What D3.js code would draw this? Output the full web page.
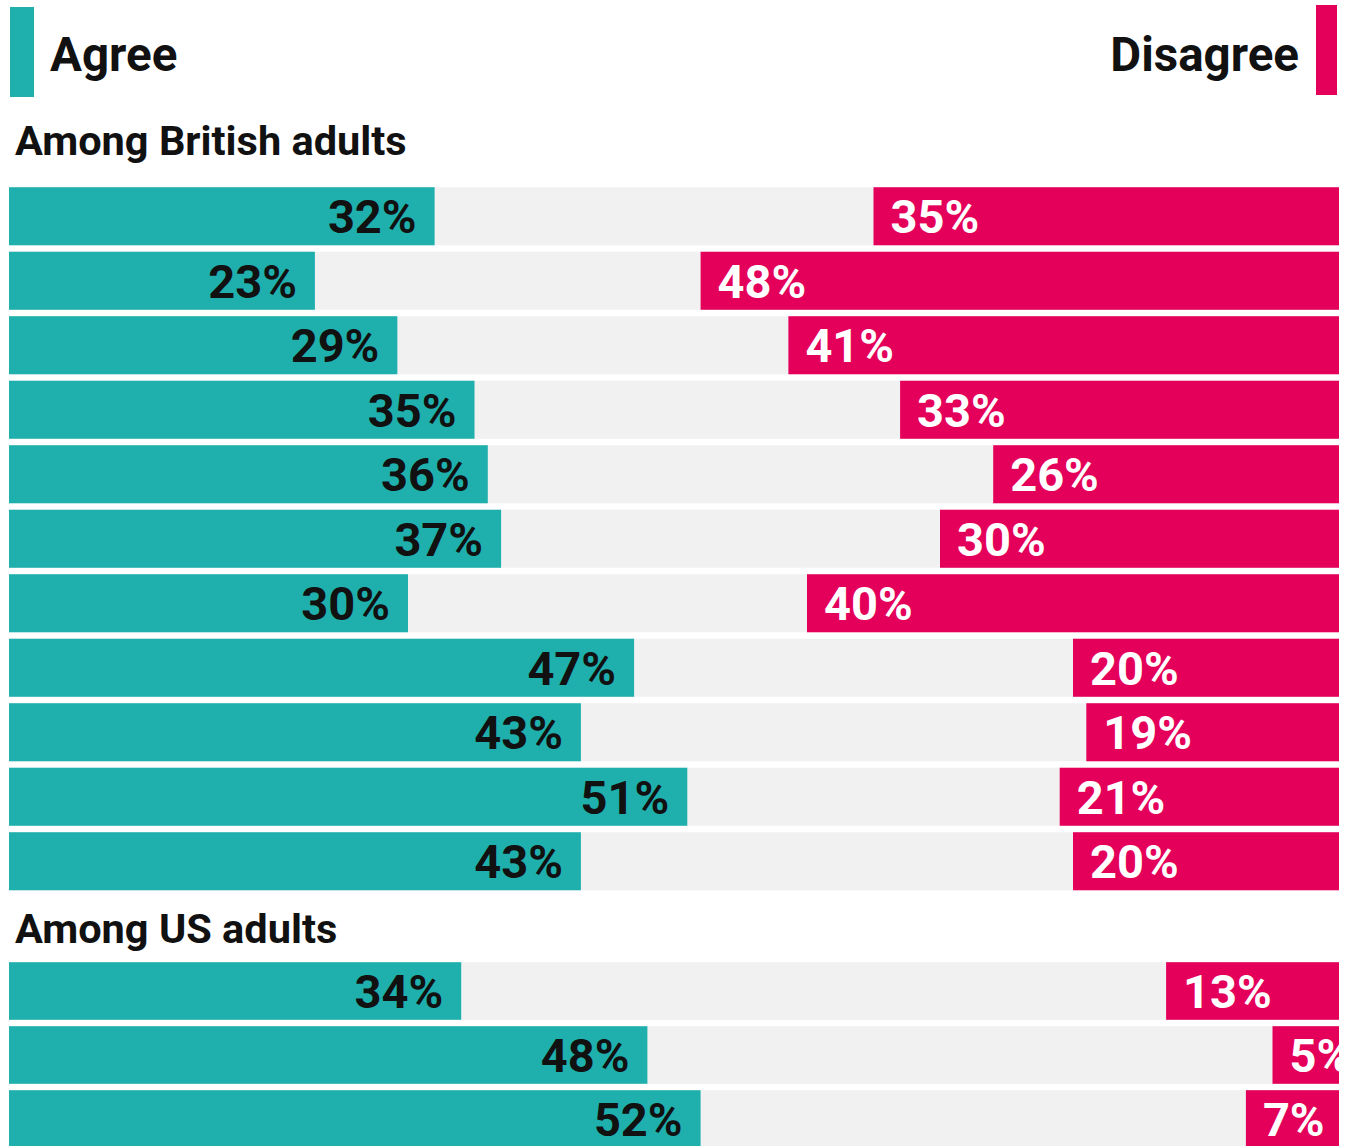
<!DOCTYPE html>
<html>
<head>
<meta charset="utf-8">
<script src="https://cdn.jsdelivr.net/npm/d3@7"></script>
<style>
  html, body { margin: 0; padding: 0; background: #fff; }
  svg { display: block; font-family: Roboto, "Noto Sans", sans-serif; }
  .lbl { font-size: 47px; font-weight: 700; }
  .legend { font-size: 47.5px; font-weight: 700; fill: #111; }
  .section { font-size: 41.5px; font-weight: 700; fill: #111; }
</style>
</head>
<body>
<div id="chart"></div>
<script>
const AGREE = 'Agree';
const DISAGREE = 'Disagree';

const UK_TITLE = 'Among British adults';
const UK_AGREE = [32, 23, 29.2, 35, 36, 37, 30, 47, 43, 51, 43];
const UK_DISAGREE = [35, 48, 41.4, 33, 26, 30, 40, 20, 19, 21, 20];

const US_TITLE = 'Among US adults';
const US_AGREE = [34, 48, 52];
const US_DISAGREE = [13, 5, 7];

const TEAL = '#1fb0ae';
const PINK = '#e4005a';
const GREY = '#f1f1f1';

const W = 1339, H = 1146;

const svg = d3.select('#chart').append('svg')
  .attr('width', W).attr('height', H)
  .style('overflow', 'hidden');

const x = d3.scaleLinear().domain([0, 100]).range([9, 1339]);
const fmt = v => Math.round(v) + '%';

// legend
svg.append('rect').attr('x', 10).attr('y', 7).attr('width', 24).attr('height', 90).attr('fill', TEAL);
svg.append('text').attr('class', 'legend').attr('x', 50).attr('y', 71).text(AGREE);
svg.append('rect').attr('x', 1316).attr('y', 5).attr('width', 21).attr('height', 90).attr('fill', PINK);
svg.append('text').attr('class', 'legend').attr('x', 1299).attr('y', 71)
  .attr('text-anchor', 'end').text(DISAGREE);

function drawGroup(title, titleY, top, step, agree, disagree) {
  svg.append('text').attr('class', 'section').attr('x', 15).attr('y', titleY).text(title);

  const rows = agree.map((a, i) => ({ a, d: disagree[i], i }));
  const y = d3.scaleBand()
    .domain(rows.map(r => r.i))
    .range([top, top + step * rows.length])
    .paddingInner(0.1).paddingOuter(0.05);

  const g = svg.append('g');
  const row = g.selectAll('g').data(rows).join('g');

  row.append('rect')
    .attr('x', x(0)).attr('width', x(100) - x(0))
    .attr('y', r => y(r.i)).attr('height', y.bandwidth())
    .attr('fill', GREY);

  row.append('rect')
    .attr('x', x(0)).attr('width', r => x(r.a) - x(0))
    .attr('y', r => y(r.i)).attr('height', y.bandwidth())
    .attr('fill', TEAL);

  row.append('rect')
    .attr('x', r => x(100 - r.d)).attr('width', r => x(100) - x(100 - r.d))
    .attr('y', r => y(r.i)).attr('height', y.bandwidth())
    .attr('fill', PINK);

  row.append('text')
    .attr('class', 'lbl')
    .attr('x', r => x(r.a) - 18)
    .attr('y', r => y(r.i) + y.bandwidth() / 2 + 17)
    .attr('text-anchor', 'end')
    .attr('fill', '#111')
    .text(r => fmt(r.a));

  row.append('text')
    .attr('class', 'lbl')
    .attr('x', r => x(100 - r.d) + 17)
    .attr('y', r => y(r.i) + y.bandwidth() / 2 + 17)
    .attr('fill', '#fff')
    .text(r => fmt(r.d));
}

drawGroup(UK_TITLE, 155, 184, 64.5, UK_AGREE, UK_DISAGREE);
drawGroup(US_TITLE, 943, 959, 64, US_AGREE, US_DISAGREE);
</script>
</body>
</html>
